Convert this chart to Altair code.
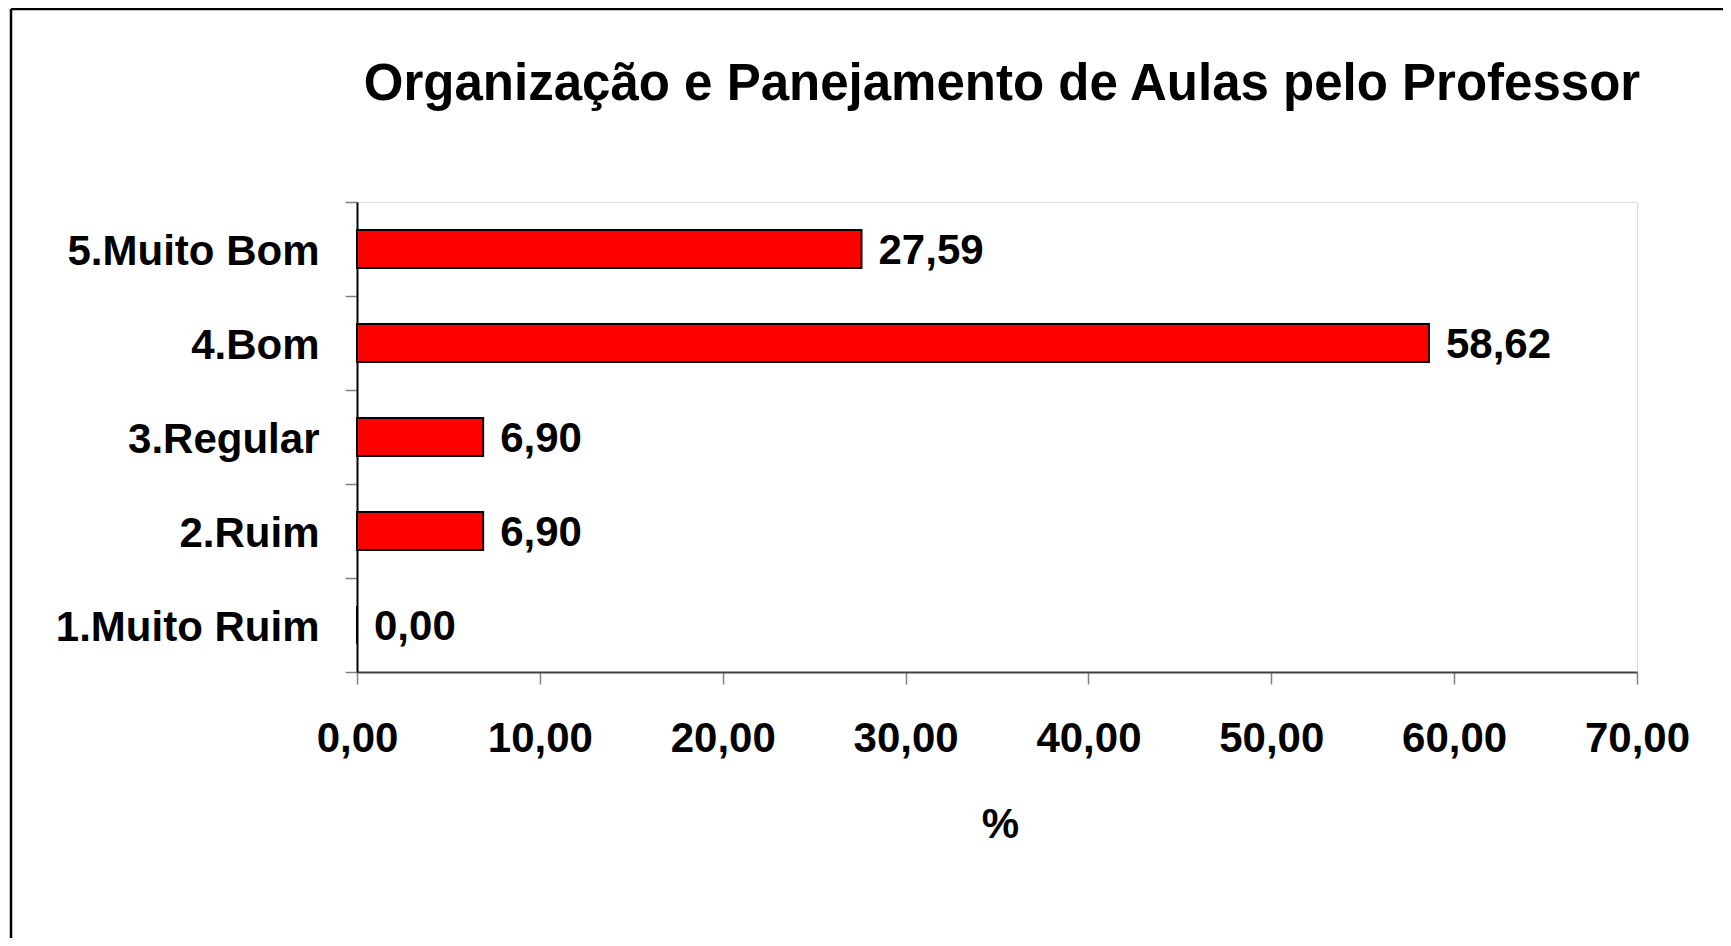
import altair as alt
import pandas as pd

categories = ["5.Muito Bom", "4.Bom", "3.Regular", "2.Ruim", "1.Muito Ruim"]
values = [27.59, 58.62, 6.90, 6.90, 0.00]
x_ticks = [0, 10, 20, 30, 40, 50, 60, 70]
title_text = "Organização e Panejamento de Aulas pelo Professor"

FONT = "Liberation Sans, Arial, sans-serif"

df = pd.DataFrame({"cat": categories, "v": values})

base = alt.Chart(df).transform_calculate(
    label="replace(format(datum.v, '.2f'), '.', ',')"
)

y_enc = alt.Y(
    "cat:N",
    sort=categories,
    scale=alt.Scale(paddingInner=0, paddingOuter=0),
    axis=alt.Axis(
        title=None,
        tickBand="extent",
        tickSize=12,
        tickColor="#808080",
        tickWidth=1.5,
        domainColor="#000000",
        domainWidth=2,
        labelFont=FONT,
        labelFontSize=42,
        labelFontWeight="bold",
        labelColor="#000000",
        labelPadding=26,
        labelLimit=0,
        labelBaseline="middle",
        labelOffset=2,
    ),
)

x_enc = alt.X(
    "v:Q",
    scale=alt.Scale(domain=[0, 70], nice=False),
    axis=alt.Axis(
        values=x_ticks,
        grid=False,
        title="%",
        titleFont=FONT,
        titleFontSize=42,
        titleFontWeight="bold",
        titleColor="#000000",
        titleBaseline="alphabetic",
        titleY=165,
        titleX=643,
        titleAlign="center",
        tickSize=12,
        tickColor="#808080",
        tickWidth=1.5,
        domainColor="#404040",
        domainWidth=2,
        labelFont=FONT,
        labelFontSize=42,
        labelFontWeight="bold",
        labelColor="#000000",
        labelBaseline="alphabetic",
        labelPadding=67,
        labelFlush=False,
        labelOverlap=False,
        labelExpr="replace(format(datum.value, '.2f'), '.', ',')",
    ),
)

bars = base.mark_bar(
    color="#FF0000", stroke="#000000", strokeWidth=2, size=38
).encode(x=x_enc, y=y_enc)

texts = base.mark_text(
    align="left",
    baseline="middle",
    dx=17,
    dy=2,
    font=FONT,
    fontSize=42,
    fontWeight="bold",
    color="#000000",
).encode(x="v:Q", y=alt.Y("cat:N", sort=categories), text="label:N")

single = pd.DataFrame({"t": [title_text]})
title_mark = alt.Chart(single).mark_text(
    align="center",
    baseline="alphabetic",
    font=FONT,
    fontSize=51,
    fontWeight="bold",
    color="#000000",
).encode(x=alt.value(645), y=alt.value(-102), text="t:N")

frame_left = alt.Chart(single).mark_rule(color="#000000", strokeWidth=2.5).encode(
    x=alt.value(-346), y=alt.value(-193), y2=alt.value(736)
)
frame_top = alt.Chart(single).mark_rule(color="#000000", strokeWidth=2.5).encode(
    x=alt.value(-346), x2=alt.value(1366), y=alt.value(-193)
)

chart = (
    alt.layer(bars, texts, title_mark, frame_left, frame_top)
    .properties(
        width=1280,
        height=470,
        autosize=alt.AutoSizeParams(type="none"),
        padding={"left": 349, "top": 194, "right": 86, "bottom": 266},
    )
    .configure_view(stroke="#808080", strokeWidth=2)
    .configure(background="#FFFFFF")
)

chart.save("out.html", embed_options={"renderer": "svg", "actions": False})
